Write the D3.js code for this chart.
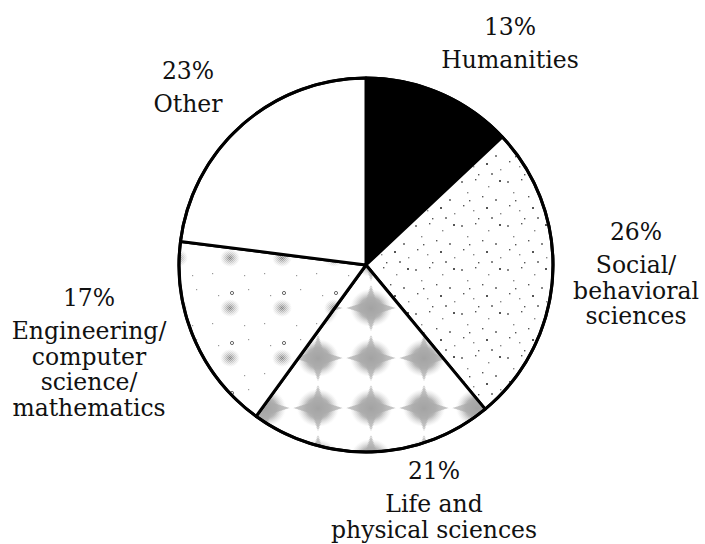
<!DOCTYPE html>
<html>
<head>
<meta charset="utf-8">
<script src="https://cdn.jsdelivr.net/npm/d3@7"></script>
<style>
  html, body { margin: 0; padding: 0; background: #fff; }
  svg { display: block; }
  .lbl { font-family: "DejaVu Serif", "Liberation Serif", serif; font-size: 23.5px; fill: #111; }
</style>
</head>
<body>
<svg id="chart" width="705" height="544"></svg>
<script>
// field shares, clockwise from 12 o'clock
const categories = ['Humanities', 'Social/behavioral sciences', 'Life and physical sciences',
  'Engineering/computer science/mathematics', 'Other'];
const shares = [13, 26, 21, 17, 23];
const labelLines = [
  ['Humanities'],
  ['Social/', 'behavioral', 'sciences'],
  ['Life and', 'physical sciences'],
  ['Engineering/', 'computer', 'science/', 'mathematics'],
  ['Other'],
];

// layout
const cx = 366;
const cy = 265;
const radius = 187;
const fills = ['#000', 'url(#stipple)', 'url(#blotch)', 'url(#speck)', '#fff'];
// label block anchors: centre x, baseline of the percent line
const labelPos = [
  {x: 510, y: 35},
  {x: 636, y: 240},
  {x: 434, y: 479},
  {x: 89, y: 306},
  {x: 188, y: 79},
];
const pctGap = 33;
const lineGap = 25.5;

const svg = d3.select('#chart');
const defs = svg.append('defs');

// sparse dots for the social sciences slice
const stipple = defs.append('pattern')
    .attr('id', 'stipple')
    .attr('patternUnits', 'userSpaceOnUse')
    .attr('width', 46).attr('height', 44);
stipple.append('rect').attr('width', 46).attr('height', 44).attr('fill', '#fff');
[[3, 4], [17, 2], [30, 9], [41, 3], [9, 15], [24, 19], [37, 22], [5, 28],
  [15, 33], [28, 30], [42, 36], [20, 41], [33, 40], [11, 23]].forEach(([x, y], i) => {
  stipple.append('rect')
      .attr('x', x).attr('y', y)
      .attr('width', i % 3 === 0 ? 2 : 1.4).attr('height', i % 3 === 0 ? 2 : 1.4)
      .attr('fill', i % 2 ? '#555' : '#888');
});

// halftone dither
const dither = defs.append('pattern')
    .attr('id', 'dither')
    .attr('patternUnits', 'userSpaceOnUse')
    .attr('width', 2).attr('height', 2);
dither.append('rect').attr('width', 1).attr('height', 1).attr('fill', '#fff');
dither.append('rect').attr('x', 1).attr('y', 1).attr('width', 1).attr('height', 1).attr('fill', '#fff');

const grad = defs.append('radialGradient').attr('id', 'blobGrad');
grad.append('stop').attr('offset', '0%').attr('stop-color', '#666').attr('stop-opacity', 1);
grad.append('stop').attr('offset', '55%').attr('stop-color', '#858585').attr('stop-opacity', 0.85);
grad.append('stop').attr('offset', '100%').attr('stop-color', '#bbb').attr('stop-opacity', 0);

// blotchy grey for life/physical sciences
const blotch = defs.append('pattern')
    .attr('id', 'blotch')
    .attr('patternUnits', 'userSpaceOnUse')
    .attr('x', 323 - 26.5).attr('y', 343 - 25)
    .attr('width', 53).attr('height', 50);
blotch.append('rect').attr('width', 53).attr('height', 50).attr('fill', '#fff');
blotch.append('ellipse').attr('cx', 26.5).attr('cy', 25).attr('rx', 21).attr('ry', 19)
    .attr('fill', 'url(#blobGrad)');
blotch.append('path')
    .attr('d', 'M26.5,2 L32,19 L51,25 L32,31 L26.5,48 L21,31 L2,25 L21,19 Z')
    .attr('fill', '#8a8a8a').attr('opacity', 0.7);
blotch.append('rect').attr('width', 53).attr('height', 50).attr('fill', 'url(#dither)').attr('opacity', 0.55);

// faint specks for engineering
const speckGrad = defs.append('radialGradient').attr('id', 'speckGrad');
speckGrad.append('stop').attr('offset', '0%').attr('stop-color', '#666').attr('stop-opacity', 0.9);
speckGrad.append('stop').attr('offset', '100%').attr('stop-color', '#aaa').attr('stop-opacity', 0);
const speck = defs.append('pattern')
    .attr('id', 'speck')
    .attr('patternUnits', 'userSpaceOnUse')
    .attr('x', 228 - 26).attr('y', 293 - 25)
    .attr('width', 52).attr('height', 50);
speck.append('rect').attr('width', 52).attr('height', 50).attr('fill', '#fff');
speck.append('ellipse').attr('cx', 26).attr('cy', 25).attr('rx', 10).attr('ry', 9)
    .attr('fill', 'url(#speckGrad)');
speck.append('rect').attr('width', 52).attr('height', 50).attr('fill', 'url(#dither)').attr('opacity', 0.5);
speck.append('circle').attr('cx', 28).attr('cy', 10).attr('r', 1.6)
    .attr('fill', 'none').attr('stroke', '#444').attr('stroke-width', 0.8);
[[8, 40], [44, 6], [14, 12], [40, 42]].forEach(([x, y]) => {
  speck.append('rect').attr('x', x).attr('y', y).attr('width', 1.2).attr('height', 1.2).attr('fill', '#999');
});

const pie = d3.pie().sort(null).value((d) => d);
const arc = d3.arc().innerRadius(0).outerRadius(radius);
const arcs = pie(shares);

const g = svg.append('g').attr('transform', `translate(${cx},${cy})`);

g.selectAll('path.slice')
    .data(arcs)
    .join('path')
    .attr('class', 'slice')
    .attr('d', arc)
    .attr('fill', (d, i) => fills[i])
    .attr('stroke', '#000')
    .attr('stroke-width', 3)
    .attr('stroke-linejoin', 'round')
    .append('title')
    .text((d, i) => `${categories[i]}: ${d.data}%`);

g.append('circle')
    .attr('r', radius)
    .attr('fill', 'none')
    .attr('stroke', '#000')
    .attr('stroke-width', 3);

const labels = svg.append('g')
    .selectAll('text')
    .data(arcs)
    .join('text')
    .attr('class', 'lbl')
    .attr('text-anchor', 'middle')
    .attr('transform', (d, i) => `translate(${labelPos[i].x},${labelPos[i].y})`);

labels.append('tspan')
    .attr('x', 0).attr('y', 0)
    .text((d) => `${d.data}%`);

labels.each(function(d, i) {
  const t = d3.select(this);
  labelLines[i].forEach((line, j) => {
    t.append('tspan')
        .attr('x', 0)
        .attr('y', pctGap + j * lineGap)
        .text(line);
  });
});
</script>
</body>
</html>
